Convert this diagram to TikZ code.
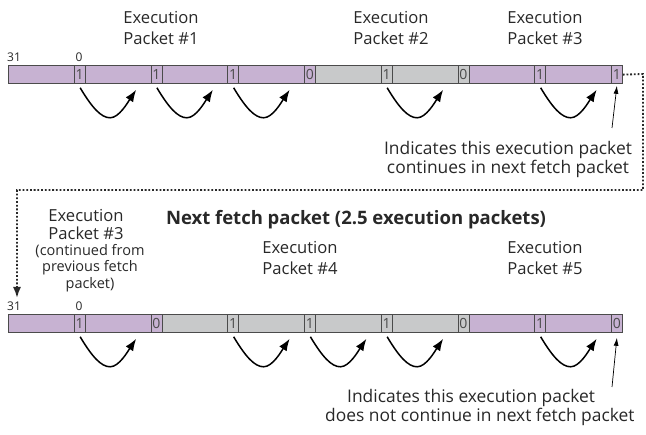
\documentclass[tikz,border=0pt]{standalone}
\usepackage{fontspec}
\setmainfont{Open Sans}
\usetikzlibrary{arrows.meta,calc}
\definecolor{purp}{RGB}{199,178,210}
\definecolor{gry}{RGB}{200,201,202}
\definecolor{edgec}{RGB}{75,75,75}
\definecolor{txt}{RGB}{40,40,40}
\begin{document}
\begin{tikzpicture}[x=1pt,y=-1pt,
  instr/.style={draw=edgec, line width=0.8pt, minimum width=76.75pt, minimum height=18.5pt, inner sep=0pt, anchor=north west},
  bitbox/.style={draw=edgec, line width=0.8pt, minimum width=11pt, minimum height=18.5pt, inner sep=0pt, anchor=north east, font=\fontsize{14}{14}\selectfont, text=edgec},
  bitnum/.style={font=\fontsize{12}{12}\selectfont, text=txt, inner sep=0pt},
  lbl/.style={font=\fontsize{16.6}{21}\selectfont, text=txt, align=center, inner sep=0pt},
  note/.style={font=\fontsize{17.4}{19}\selectfont, text=txt, inner sep=0pt},
  curv/.style={line width=1.5pt, -{Latex[length=12pt,width=9pt]}},
  thin/.style={line width=0.7pt, -{Latex[length=8pt,width=5pt]}},
  dots/.style={line width=1.8pt, dash pattern=on 1.8pt off 1.9pt, color=txt},
]
\useasboundingbox (0,0) rectangle (646,435);
% top fetch packet
\foreach \c [count=\i from 0] in {purp,purp,purp,purp,gry,gry,purp,purp}
  \node[instr, fill=\c] (t\i) at (8+76.75*\i, 65) {};
\foreach \b [count=\i from 0] in {1,1,1,0,1,0,1,1}
  \node[bitbox] (tb\i) at (t\i.north east) {\b};
% bottom fetch packet
\foreach \c [count=\i from 0] in {purp,purp,gry,gry,gry,gry,purp,purp}
  \node[instr, fill=\c] (b\i) at (8+76.75*\i, 314) {};
\foreach \b [count=\i from 0] in {1,0,1,1,1,0,1,0}
  \node[bitbox] (bb\i) at (b\i.north east) {\b};
% bit numbers
\node[bitnum] (t31) at (14,57) {31};
\node[bitnum] (t0) at (79,57) {0};
\node[bitnum] (b31) at (14,306) {31};
\node[bitnum] (b0) at (79,306) {0};
% curved arrows
\foreach \i in {0,1,2,4,6}
  \draw[curv] ($(tb\i.south)+(0.5,3.5)$) .. controls +(12,20) and +(-9,0) .. ++(30,30)
     .. controls +(9,0) and +(-8,12) .. ++(26,-28);
\foreach \i in {0,2,3,4,6}
  \draw[curv] ($(bb\i.south)+(0.5,3.5)$) .. controls +(12,20) and +(-9,0) .. ++(30,30)
     .. controls +(9,0) and +(-8,12) .. ++(26,-28);
% labels
\node[lbl] (ep1) at (161,28) {Execution\\Packet \#1};
\node[lbl] (ep2) at (391,28) {Execution\\Packet \#2};
\node[lbl] (ep3) at (545,28) {Execution\\Packet \#3};
\node[lbl, font=\fontsize{16.6}{18}\selectfont] (ep3b) at (86,224) {Execution\\Packet \#3};
\node[lbl, font=\fontsize{14.5}{16.5}\selectfont] (ep3c) at (90,268) {(continued from\\previous fetch\\packet)};
\node[lbl] (ep4) at (300,258) {Execution\\Packet \#4};
\node[lbl] (ep5) at (545,258) {Execution\\Packet \#5};
\node[font=\bfseries\fontsize{18.5}{18.5}\selectfont, text=txt, inner sep=0pt] (title) at (356,220) {Next fetch packet (2.5 execution packets)};
% notes
\node[note, align=center] (n1) at (508,159) {Indicates this execution packet\\continues in next fetch packet};
\node[note, anchor=west] (n2a) at (347,398) {Indicates this execution packet};
\node[note, anchor=west] (n2b) at (325,417) {does not continue in next fetch packet};
\coordinate (n1arr) at (612,128);
\coordinate (n2arr) at (612,387);
\draw[thin] (n1arr) -- ($(tb7.south)+(0,1.5)$);
\draw[thin] (n2arr) -- ($(bb7.south)+(0,4.5)$);
% dotted continuation
\coordinate (dend) at (17,298);
\draw[dots, -{Latex[length=11pt,width=8pt]}] (tb7.east) -- (643,74) -- (643,190) -- (17,190) -- (dend);
\end{tikzpicture}
\end{document}
